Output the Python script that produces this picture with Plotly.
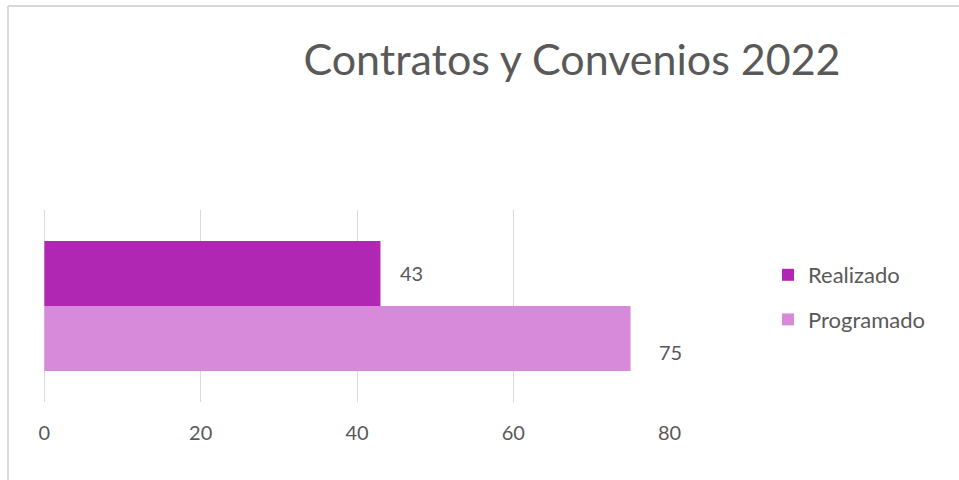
import plotly.graph_objects as go

categories = ["Contratos y Convenios"]
series_names = ["Programado", "Realizado"]
series_values = [[75], [43]]
series_colors = ["#D68AD9", "#B027B3"]
tick_values = [0, 20, 40, 60, 80]
tick_labels = ["0", "20", "40", "60", "80"]
title_text = "Contratos y Convenios 2022"

FONT = "Lato"
GREY = "#595959"

legend_rank = {"Realizado": 1, "Programado": 2}

fig = go.Figure()
for name, vals, col in zip(series_names, series_values, series_colors):
    fig.add_trace(go.Bar(
        y=categories, x=vals, name=name, orientation="h",
        marker=dict(color=col, line=dict(width=0)),
        legendgroup=name, legendrank=legend_rank[name],
    ))

# data labels
label_yshift = {"Realizado": 33, "Programado": -46}
label_xshift = {"Realizado": 18, "Programado": 26}
for name, vals in zip(series_names, series_values):
    for c, v in zip(categories, vals):
        fig.add_annotation(x=v, y=c, text=str(v), showarrow=False,
                           xanchor="left", yanchor="middle",
                           xshift=label_xshift[name], yshift=label_yshift[name],
                           font=dict(family=FONT, size=20, color=GREY))

W, H = 959, 480
L, R, T, B = 44, 289, 210, 78
pw, ph = W - L - R, H - T - B

def px_x(p):
    return (p - L) / pw

def px_y(p):
    return (H - B - p) / ph

# chart border (left and top visible)
fig.add_shape(type="line", xref="paper", yref="paper",
              x0=px_x(8), x1=px_x(8), y0=px_y(6), y1=px_y(H + 10),
              line=dict(color="#D9D9D9", width=2))
fig.add_shape(type="line", xref="paper", yref="paper",
              x0=px_x(8), x1=px_x(W + 10), y0=px_y(6), y1=px_y(6),
              line=dict(color="#D9D9D9", width=2))

fig.update_layout(
    width=W, height=H,
    margin=dict(l=L, r=R, t=T, b=B, autoexpand=False),
    paper_bgcolor="white", plot_bgcolor="white",
    barmode="group", bargap=0.323, bargroupgap=0,
    title=dict(text=title_text, font=dict(family=FONT, size=43, color=GREY),
               x=px_x(572), xref="paper", xanchor="center",
               y=1 - 60 / H, yref="container", yanchor="middle"),
    legend=dict(traceorder="grouped", x=px_x(768), xanchor="left",
                y=px_y(254), yanchor="top", font=dict(family=FONT, size=22, color=GREY),
                tracegroupgap=13, itemwidth=30, bgcolor="rgba(0,0,0,0)"),
    xaxis=dict(range=[-0.05, 80.05], tickvals=tick_values, ticktext=tick_labels,
               showgrid=True, gridcolor="#D9D9D9", gridwidth=1,
               zeroline=True, zerolinecolor="#D9D9D9", zerolinewidth=1,
               showline=False, ticks="", ticklabelstandoff=17, automargin=False,
               tickfont=dict(family=FONT, size=20, color=GREY)),
    yaxis=dict(type="category", range=[-0.5, 0.5], showticklabels=False,
               showgrid=False, zeroline=False, showline=False, automargin=False),
    showlegend=True,
)

fig.write_html("out.html", config={"displayModeBar": False},
               post_script="document.body.style.margin='0';document.body.style.overflow='hidden';")
